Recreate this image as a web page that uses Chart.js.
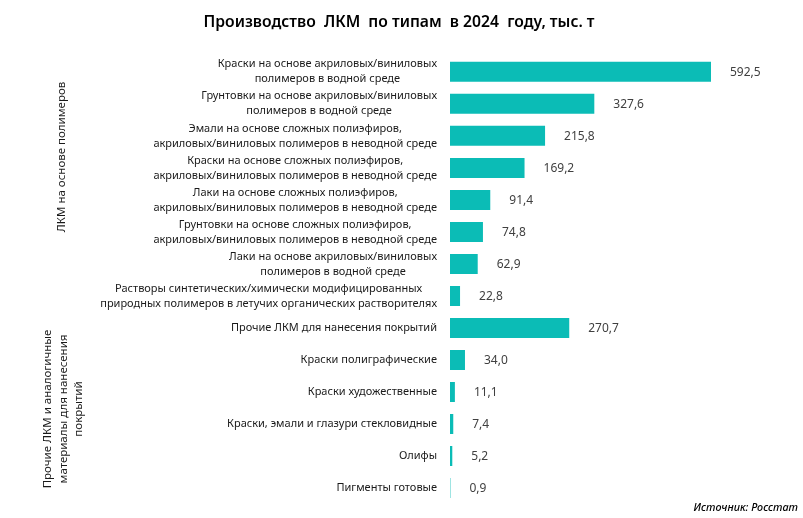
<!DOCTYPE html>
<html lang="ru">
<head>
  <meta charset="UTF-8">
  <title>Производство ЛКМ по типам в 2024 году</title>
  <style>
    html, body { margin: 0; padding: 0; background: #fff; }
    .chart-container { position: relative; width: 803px; height: 518px; }
  </style>
</head>
<body>
  <div class="chart-container">
    <canvas id="lkm-chart"></canvas>
  </div>

  <script src="https://cdn.jsdelivr.net/npm/chart.js"></script>
  <script>
    // данные
    var categories = [
      ['Краски на основе акриловых/виниловых', 'полимеров в водной среде'],
      ['Грунтовки на основе акриловых/виниловых', 'полимеров в водной среде'],
      ['Эмали на основе сложных полиэфиров,', 'акриловых/виниловых полимеров в неводной среде'],
      ['Краски на основе сложных полиэфиров,', 'акриловых/виниловых полимеров в неводной среде'],
      ['Лаки на основе сложных полиэфиров,', 'акриловых/виниловых полимеров в неводной среде'],
      ['Грунтовки на основе сложных полиэфиров,', 'акриловых/виниловых полимеров в неводной среде'],
      ['Лаки на основе акриловых/виниловых', 'полимеров в водной среде'],
      ['Растворы синтетических/химически модифицированных', 'природных полимеров в летучих органических растворителях'],
      ['Прочие ЛКМ для нанесения покрытий'],
      ['Краски полиграфические'],
      ['Краски художественные'],
      ['Краски, эмали и глазури стекловидные'],
      ['Олифы'],
      ['Пигменты готовые']
    ];
    var values = [592.5, 327.6, 215.8, 169.2, 91.4, 74.8, 62.9, 22.8, 270.7, 34.0, 11.1, 7.4, 5.2, 0.9];

    var groupPolymers = ['ЛКМ на основе полимеров'];
    var groupOther = ['Прочие ЛКМ и аналогичные', 'материалы для нанесения', 'покрытий'];

    var titleText = 'Производство  ЛКМ  по типам  в 2024  году, тыс. т';
    var sourceText = 'Источник: Росстат';

    var barColor = '#0BBCB6';
    var fontFamily = '"Noto Sans", "Open Sans", sans-serif';

    function fmt(v) {
      return v.toFixed(1).replace('.', ',');
    }

    // подписи категорий (строки по центру блока), значений, групп и источника
    var extraLabels = {
      id: 'extraLabels',
      afterDatasetsDraw: function(chart) {
        var ctx = chart.ctx;
        var yScale = chart.scales.y;
        var meta = chart.getDatasetMeta(0);

        ctx.save();
        ctx.font = '11px ' + fontFamily;
        ctx.fillStyle = '#1a1a1a';
        ctx.textAlign = 'center';
        ctx.textBaseline = 'middle';
        var rightEdge = chart.chartArea.left - 13;
        categories.forEach(function(lines, i) {
          var yc = yScale.getPixelForValue(i);
          var maxW = 0;
          lines.forEach(function(l) { maxW = Math.max(maxW, ctx.measureText(l).width); });
          var xc = rightEdge - maxW / 2;
          var y0 = yc - (lines.length - 1) * 7.5;
          lines.forEach(function(l, k) {
            ctx.fillText(l, xc, y0 + k * 15);
          });
        });
        ctx.restore();

        ctx.save();
        ctx.font = '12px ' + fontFamily;
        ctx.fillStyle = '#404040';
        ctx.textAlign = 'left';
        ctx.textBaseline = 'middle';
        meta.data.forEach(function(bar, i) {
          ctx.fillText(fmt(values[i]), bar.x + 19, bar.y + 1);
        });
        ctx.restore();

        ctx.save();
        ctx.font = '11.5px ' + fontFamily;
        ctx.fillStyle = '#1a1a1a';
        ctx.textAlign = 'center';
        ctx.textBaseline = 'middle';
        ctx.translate(62, 157);
        ctx.rotate(-Math.PI / 2);
        ctx.fillText(groupPolymers[0], 0, 0);
        ctx.restore();

        ctx.save();
        ctx.font = '11.5px ' + fontFamily;
        ctx.fillStyle = '#1a1a1a';
        ctx.textAlign = 'center';
        ctx.textBaseline = 'middle';
        ctx.translate(48, 409);
        ctx.rotate(-Math.PI / 2);
        groupOther.forEach(function(line, i) {
          ctx.fillText(line, 0, i * 15.5);
        });
        ctx.restore();

        ctx.save();
        ctx.font = 'italic 500 10.8px ' + fontFamily;
        ctx.fillStyle = '#000';
        ctx.textAlign = 'right';
        ctx.textBaseline = 'middle';
        ctx.fillText(sourceText, 798, 508);
        ctx.restore();
      }
    };

    document.addEventListener('DOMContentLoaded', function() {
      var lkmChart = new Chart(document.getElementById('lkm-chart'), {
        type: 'bar',
        data: {
          labels: categories,
          datasets: [{
            data: values,
            backgroundColor: barColor,
            barPercentage: 0.625,
            categoryPercentage: 1.0
          }]
        },
        options: {
          indexAxis: 'y',
          responsive: true,
          maintainAspectRatio: false,
          animation: false,
          layout: {
            padding: { left: 0, right: 5, top: 0, bottom: 14 }
          },
          plugins: {
            legend: { display: false },
            tooltip: { enabled: false },
            title: {
              display: true,
              text: titleText,
              color: '#000',
              font: { family: fontFamily, size: 15.7, weight: '600' },
              padding: { top: 13, bottom: 24 }
            }
          },
          scales: {
            x: {
              display: false,
              min: 0,
              max: 790
            },
            y: {
              grid: { display: false, drawTicks: false },
              border: { display: false },
              ticks: { display: false },
              afterFit: function(scale) {
                scale.width = 450;
                scale.paddingTop = 0;
                scale.paddingBottom = 0;
              }
            }
          }
        },
        plugins: [extraLabels]
      });
    });
  </script>
</body>
</html>
